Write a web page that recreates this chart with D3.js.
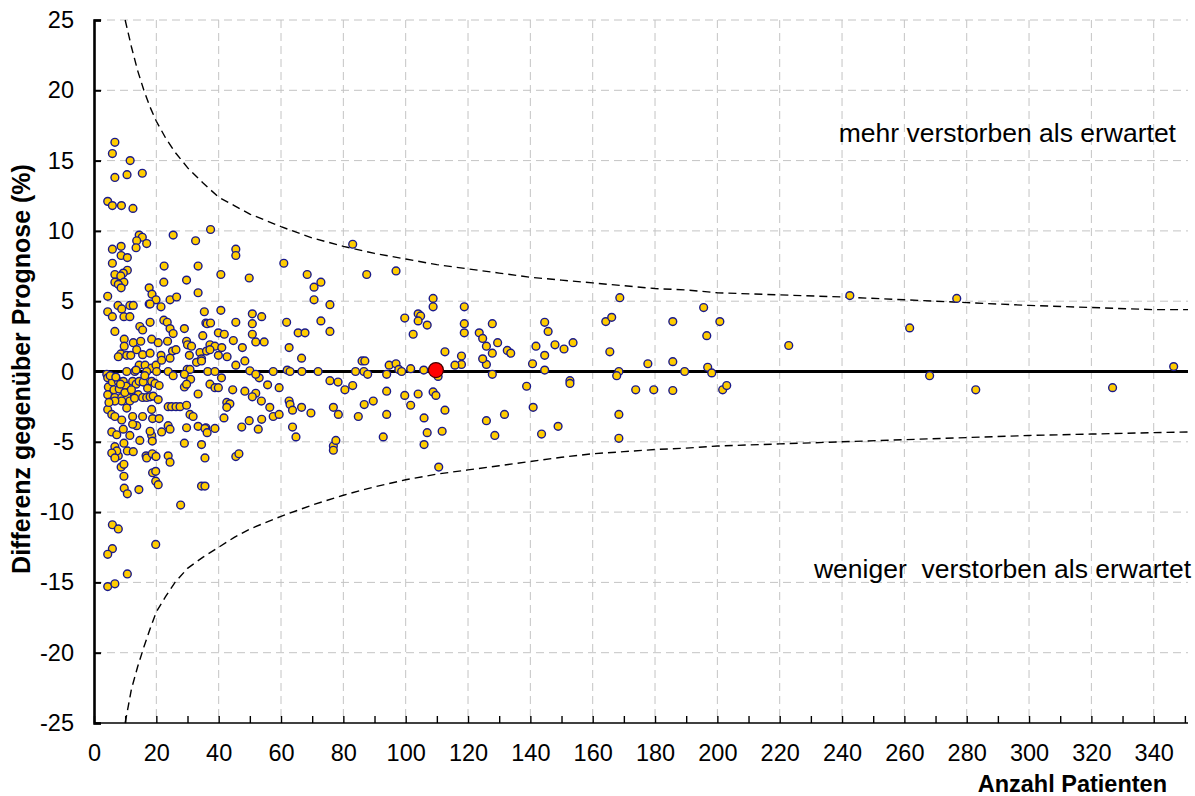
<!DOCTYPE html>
<html>
<head>
<meta charset="utf-8">
<script src="https://cdn.jsdelivr.net/npm/d3@7/dist/d3.min.js"></script>
<style>
body { margin: 0; background: #ffffff; }
text { font-family: "Liberation Sans", Arial, sans-serif; fill: #000; }
</style>
</head>
<body>
<svg id="chart" width="1195" height="796"></svg>
<script>
"use strict"

// axis ticks
var xTickValues = [0, 20, 40, 60, 80, 100, 120, 140, 160, 180, 200, 220, 240, 260, 280, 300, 320, 340];
var xMinorTicks = [10, 30, 50, 70, 90, 110, 130, 150, 170, 190, 210, 230, 250, 270, 290, 310, 330, 350];
var yTickValues = [-25, -20, -15, -10, -5, 0, 5, 10, 15, 20, 25];

// funnel limits
var limitN     = [10, 12, 14, 16, 18, 20, 23, 26, 30, 35, 40, 45, 50, 60, 70, 80, 90, 100, 110, 120, 130, 140, 150, 160, 170, 180, 190, 200, 220, 240, 260, 280, 300, 320, 340, 351];
var upperLimit = [25.0, 23.1, 21.4, 20.0, 18.8, 17.8, 16.6, 15.6, 14.5, 13.4, 12.4, 11.8, 11.2, 10.3, 9.5, 8.9, 8.4, 8.0, 7.6, 7.3, 7.0, 6.7, 6.5, 6.3, 6.1, 5.9, 5.8, 5.6, 5.45, 5.3, 5.1, 4.9, 4.7, 4.55, 4.4, 4.4];
var lowerLimit = [-25.0, -22.6, -21.0, -19.6, -18.3, -17.1, -16.0, -15.0, -14.0, -13.2, -12.5, -11.8, -11.2, -10.3, -9.5, -8.8, -8.2, -7.7, -7.3, -7.0, -6.7, -6.4, -6.1, -5.85, -5.7, -5.55, -5.45, -5.3, -5.15, -5.0, -4.85, -4.7, -4.55, -4.45, -4.35, -4.3];

// hospitals: [patients, difference %]
var hospitals = [
	[6.7,16.3],[5.9,15.5],[6.7,13.8],[10.6,14.0],[11.6,15.0],[15.5,14.1],[4.4,12.1],[5.9,11.8],[8.8,11.8],[12.5,11.6],
	[14.5,9.7],[15.5,9.55],[13.7,9.3],[16.9,9.1],[13.5,8.8],[8.7,8.9],[5.9,8.7],[8.7,8.25],[10.7,8.1],[5.9,7.7],
	[10.7,7.2],[9.4,7.0],[6.7,6.9],[8.6,6.8],[6.7,6.35],[9.6,6.35],[7.8,6.2],[8.7,5.95],[4.4,5.35],
	[22.5,7.5],[25.4,9.7],[32.6,9.3],[33.4,7.5],[29.7,6.5],[33.4,5.6],[22.4,6.35],[17.7,5.95],[18.6,5.5],[19.9,5.1],
	[17.7,4.8],[24.4,5.1],[26.5,5.3],[37.4,10.1],[7.7,4.7],[11.5,4.7],[12.6,4.7],
	[45.5,8.7],[45.5,8.25],[60.9,7.7],[40.7,6.9],[49.8,6.65],[68.4,6.9],[70.6,6.0],[72.8,6.35],[70.6,5.1],[75.7,4.75],
	[83.0,9.05],[87.5,6.9],[96.9,7.15],[108.8,5.2],[108.8,4.6],[118.8,4.6],
	[4.4,4.25],[5.9,3.9],[8.9,4.45],[9.6,3.9],[11.5,3.9],[18.0,4.8],[21.5,4.6],[35.4,4.25],
	[6.7,2.85],[14.7,3.2],[15.6,2.95],[18.0,3.5],[22.4,3.65],[23.5,3.5],[29.0,3.05],[24.4,3.05],[25.4,2.7],[35.9,3.45],[34.9,2.55],
	[9.7,2.3],[12.6,2.05],[9.7,1.8],[15.0,2.15],[18.5,2.3],[20.6,2.05],[23.6,2.15],[29.7,2.15],[30.0,1.9],[31.3,1.8],
	[25.2,1.45],[26.3,1.55],[34.0,1.35],[36.1,1.45],[8.6,1.25],[10.5,1.15],[11.8,1.15],[13.7,1.55],[15.6,1.2],[18.0,1.3],
	[21.5,1.15],[24.4,0.95],[30.6,1.15],[32.9,0.65],[34.5,0.9],[7.8,1.05],[14.5,0.45],[16.4,0.45],[18.5,0.25],[19.9,0.45],[21.7,0.8],
	[40.7,4.35],[36.3,3.4],[37.4,3.45],[45.5,3.5],[50.8,4.1],[53.8,3.9],[50.8,3.4],[61.8,3.5],[72.8,3.6],[75.7,2.85],
	[65.5,2.75],[67.7,2.75],[50.8,2.65],[39.9,2.75],[41.8,2.65],[44.7,2.2],[51.9,2.1],[54.6,2.1],[47.6,1.7],[62.6,1.7],
	[37.2,1.9],[38.8,1.8],[37.2,1.55],[41.0,1.7],[39.9,1.15],[42.7,1.05],[48.4,0.75],[45.5,0.45],[66.6,0.95],[34.5,0.75],
	[99.7,3.8],[104.0,4.1],[104.8,3.95],[104.0,3.6],[102.4,2.65],[106.9,3.3],[112.6,1.4],[118.8,3.4],[118.8,2.75],[123.6,2.75],
	[124.7,2.35],[125.9,1.8],[127.8,3.4],[129.5,2.05],[127.8,1.3],[125.9,0.5],[124.7,0.9],[117.9,1.1],[117.9,0.5],[115.8,0.45],
	[132.6,1.5],[133.7,1.3],[144.6,3.5],[145.7,2.85],[141.8,1.8],[144.6,1.15],[147.9,1.9],[150.8,1.6],[153.7,2.05],[140.7,0.55],[144.6,0.1],
	[164.2,3.55],[166.1,3.85],[168.7,5.25],[165.5,1.4],[168.4,0.0],[167.7,-0.3],[177.7,0.55],[185.7,3.55],[185.7,0.7],[189.5,0.0],
	[195.6,4.55],[196.6,2.55],[196.9,0.3],[198.2,-0.1],[200.8,3.55],[222.9,1.85],[242.5,5.4],[261.7,3.1],[276.8,5.2],[346.4,0.35],
	[4.1,-0.2],[10.5,0.0],[13.1,0.0],[16.9,0.0],[20.1,0.0],[23.8,0.0],[29.9,0.15],[30.8,0.15],[36.5,0.0],[38.8,0.0],
	[40.9,-0.45],[50.0,0.05],[53.0,-0.45],[13.5,0.1],[25.4,-0.3],[29.0,-0.2],[31.0,-0.55],
	[51.9,-0.2],[57.5,0.0],[62.0,0.1],[62.9,0.0],[66.7,0.0],[71.9,0.0],[75.7,-0.65],[78.3,-0.75],[83.9,0.0],[86.0,0.75],
	[86.9,0.75],[86.6,0.0],[87.8,-0.2],[93.9,-0.2],[94.7,0.45],[96.9,0.55],[97.8,0.15],[98.7,0.0],[101.6,0.2],[105.8,0.1],[110.4,-0.35],[127.8,-0.2],
	[4.4,-0.45],[4.6,-1.1],[4.4,-1.65],[5.9,-0.75],[6.4,-1.3],[6.7,-1.85],[7.8,-0.7],[8.1,-1.25],[8.9,-1.85],[9.4,-0.7],
	[10.3,-1.05],[11.3,-1.45],[10.7,-1.85],[12.4,-0.7],[13.5,-0.9],[14.5,-0.7],[15.8,-0.75],[14.2,-1.65],[15.6,-1.85],[16.9,-1.85],
	[18.5,-0.7],[19.6,-0.85],[20.9,-1.0],[18.0,-1.8],[19.0,-1.75],[20.6,-2.0],[11.5,-2.1],[8.9,-2.1],[10.5,-2.6],[18.5,-2.7],
	[23.8,-2.5],[24.9,-2.5],[26.3,-2.5],[27.6,-2.5],[29.7,-2.4],[6.7,-2.1],[4.4,-2.7],[5.7,-3.05],[6.7,-3.2],[8.9,-3.45],
	[12.4,-3.2],[13.7,-3.85],[12.4,-3.75],[15.6,-3.2],[18.8,-3.35],[20.9,-3.35],[30.8,-3.05],[31.8,-3.2],[33.4,-3.9],[35.9,-4.0],
	[23.8,-3.85],[24.4,-4.1],[29.7,-4.0],[5.7,-4.3],[7.3,-4.5],[9.4,-4.1],[11.5,-4.55],[14.7,-4.9],[18.5,-4.55],[18.0,-4.25],
	[21.7,-4.3],[18.7,-4.95],[9.6,-5.1],[6.4,-5.8],[7.8,-6.0],[16.7,-6.0],[19.6,-6.0],[23.8,-6.0],[29.0,-1.1],[29.7,-0.9],[33.4,-1.6],
	[5.2,-0.3],[7.0,-0.4],[8.5,-0.9],[9.9,-1.5],[12.0,-1.3],[13.0,-1.9],[17.2,-1.2],[16.3,-0.3],[4.8,-2.2],
	[29.0,-5.1],[34.5,-5.2],[6.7,-5.35],[7.3,-5.65],[5.7,-5.8],[6.7,-6.15],[10.7,-5.65],[12.6,-5.7],[16.9,-6.15],[18.7,-5.85],
	[19.9,-6.05],[24.4,-6.45],[35.6,-6.15],[8.7,-6.8],[9.6,-6.6],[9.6,-7.45],[18.8,-7.2],[19.8,-7.1],[19.8,-7.8],[20.6,-8.05],
	[9.7,-8.3],[10.7,-8.7],[14.4,-8.4],[34.5,-8.15],[35.6,-8.15],[27.8,-9.5],
	[5.9,-10.9],[7.8,-11.2],[19.8,-12.3],[5.9,-12.6],[4.4,-13.0],[10.7,-14.4],[4.4,-15.3],[6.7,-15.1],
	[37.2,-0.9],[38.8,-1.15],[39.9,-1.15],[44.5,-1.3],[48.4,-1.4],[51.9,-1.55],[50.8,-1.8],[55.7,-0.95],[59.4,-1.15],[42.6,-2.2],
	[43.6,-2.3],[42.6,-2.55],[53.7,-2.1],[62.6,-2.1],[62.9,-2.35],[63.7,-2.75],[56.4,-2.55],[57.5,-3.2],[59.4,-3.05],[66.6,-2.55],
	[69.6,-2.95],[76.8,-2.55],[78.4,-3.05],[41.7,-3.3],[49.8,-3.5],[53.8,-3.4],[47.4,-3.95],[52.7,-4.1],[63.7,-3.95],[64.8,-4.65],
	[35.6,-4.05],[36.3,-4.35],[38.8,-4.05],[45.5,-6.05],[46.5,-5.85],[76.8,-5.3],[76.8,-5.6],[77.6,-4.9],
	[80.5,-1.3],[83.0,-1.0],[93.9,-1.4],[99.7,-1.7],[104.0,-1.6],[108.8,-1.45],[109.7,-1.7],[86.7,-2.35],[89.6,-2.1],[101.6,-2.4],
	[84.8,-3.2],[93.9,-3.05],[105.9,-3.3],[112.6,-2.75],[106.9,-4.35],[111.7,-4.25],[105.9,-5.2],[92.8,-4.65],[110.6,-6.8],
	[125.9,-3.5],[128.6,-4.55],[131.7,-3.05],[138.8,-1.05],[152.7,-0.65],[152.7,-0.85],[140.9,-2.55],[148.9,-3.9],[143.6,-4.45],
	[168.4,-3.05],[168.4,-4.75],[173.8,-1.3],[179.6,-1.3],[185.7,-1.35],[201.7,-1.3],[203.0,-1.0],[268.1,-0.3],[282.9,-1.3],[326.8,-1.15]
];
var ownHospital = [[109.7, 0.1]];

var xTitle = "Anzahl Patienten";
var yTitle = "Differenz gegenüber Prognose (%)";
var noteAbove = "mehr verstorben als erwartet";
var noteBelow = "weniger\u00a0 verstorben als erwartet";

//
// layout
//
var plotLeft = 94, plotRight = 1188, plotTop = 20, plotBottom = 723;

var x = d3.scaleLinear().domain([0, 351]).range([plotLeft, plotRight]);
var y = d3.scaleLinear().domain([-25, 25]).range([plotBottom, plotTop]);

var svg = d3.select("#chart");

// gridlines
svg.append("g").selectAll("line")
	.data(yTickValues.filter(function(d) { return d > -25; }))
	.enter().append("line")
	.attr("x1", plotLeft)
	.attr("x2", plotRight)
	.attr("y1", function(d) { return y(d); })
	.attr("y2", function(d) { return y(d); })
	.attr("stroke", "#c4c4c4")
	.attr("stroke-width", 1)
	.attr("stroke-dasharray", "8,5")
	;
svg.append("g").selectAll("line")
	.data(xTickValues.filter(function(d) { return d > 0; }))
	.enter().append("line")
	.attr("x1", function(d) { return x(d); })
	.attr("x2", function(d) { return x(d); })
	.attr("y1", plotTop)
	.attr("y2", plotBottom)
	.attr("stroke", "#c4c4c4")
	.attr("stroke-width", 1)
	.attr("stroke-dasharray", "8,5")
	;

// funnel limits
var line = d3.line()
	.x(function(d) { return x(d[0]); })
	.y(function(d) { return y(d[1]); });

var upperPts = limitN.map(function(n, i) { return [n, upperLimit[i]]; });
var lowerPts = limitN.map(function(n, i) { return [n, lowerLimit[i]]; });

[upperPts, lowerPts].forEach(function(pts) {
	svg.append("path")
		.attr("d", line(pts))
		.attr("fill", "none")
		.attr("stroke", "#000")
		.attr("stroke-width", 1.4)
		.attr("stroke-dasharray", "8,5")
		;
});

// zero line
svg.append("line")
	.attr("x1", plotLeft)
	.attr("x2", plotRight)
	.attr("y1", y(0))
	.attr("y2", y(0))
	.attr("stroke", "#000")
	.attr("stroke-width", 3)
	;

// axes
var yAxis = d3.axisLeft(y)
	.tickValues(yTickValues)
	.tickSize(-7)
	.tickPadding(20)
	.tickFormat(function(d) { return String(d); });
var gy = svg.append("g")
	.attr("transform", "translate(" + plotLeft + ",0)")
	.call(yAxis);
gy.select(".domain").attr("stroke-width", 2.6);
gy.selectAll(".tick line").attr("stroke-width", 2);
gy.selectAll("text")
	.style("font-size", "23.5px")
	.style("font-family", "'Liberation Sans', Arial, sans-serif")
	.attr("fill", "#000");

var xAxis = d3.axisBottom(x)
	.tickValues(xTickValues.concat(xMinorTicks))
	.tickSize(-7)
	.tickPadding(21)
	.tickFormat(function(d) { return xTickValues.indexOf(d) >= 0 ? String(d) : ""; });
var gx = svg.append("g")
	.attr("transform", "translate(0," + plotBottom + ")")
	.call(xAxis);
gx.select(".domain").attr("stroke-width", 1.6).attr("d", "M" + plotLeft + ",0H" + plotRight);
gx.selectAll(".tick line").attr("stroke-width", 1.4);
gx.selectAll("text")
	.style("font-size", "23.5px")
	.style("font-family", "'Liberation Sans', Arial, sans-serif")
	.attr("fill", "#000");

// hospitals
svg.append("g").selectAll("circle")
	.data(hospitals)
	.enter().append("circle")
	.attr("cx", function(d) { return x(d[0]); })
	.attr("cy", function(d) { return y(d[1]); })
	.attr("r", 3.9)
	.attr("fill", "#ffcc00")
	.attr("stroke", "#1a1a8c")
	.attr("stroke-width", 1.4)
	;

svg.append("g").selectAll("circle")
	.data(ownHospital)
	.enter().append("circle")
	.attr("cx", function(d) { return x(d[0]); })
	.attr("cy", function(d) { return y(d[1]); })
	.attr("r", 7.5)
	.attr("fill", "#ff0000")
	.attr("stroke", "#400000")
	.attr("stroke-width", 1.2)
	;

// notes
svg.append("text")
	.attr("x", 1176)
	.attr("y", 142)
	.attr("text-anchor", "end")
	.style("font-size", "26.5px")
	.text(noteAbove);
svg.append("text")
	.attr("x", 1191)
	.attr("y", 578)
	.attr("text-anchor", "end")
	.style("font-size", "26.5px")
	.text(noteBelow);

// axis titles
svg.append("text")
	.attr("x", 1167)
	.attr("y", 792)
	.attr("text-anchor", "end")
	.style("font-size", "23.5px")
	.style("font-weight", "bold")
	.text(xTitle);
svg.append("text")
	.attr("transform", "translate(30,369) rotate(-90)")
	.attr("text-anchor", "middle")
	.style("font-size", "25px")
	.style("font-weight", "bold")
	.text(yTitle);
</script>
</body>
</html>
